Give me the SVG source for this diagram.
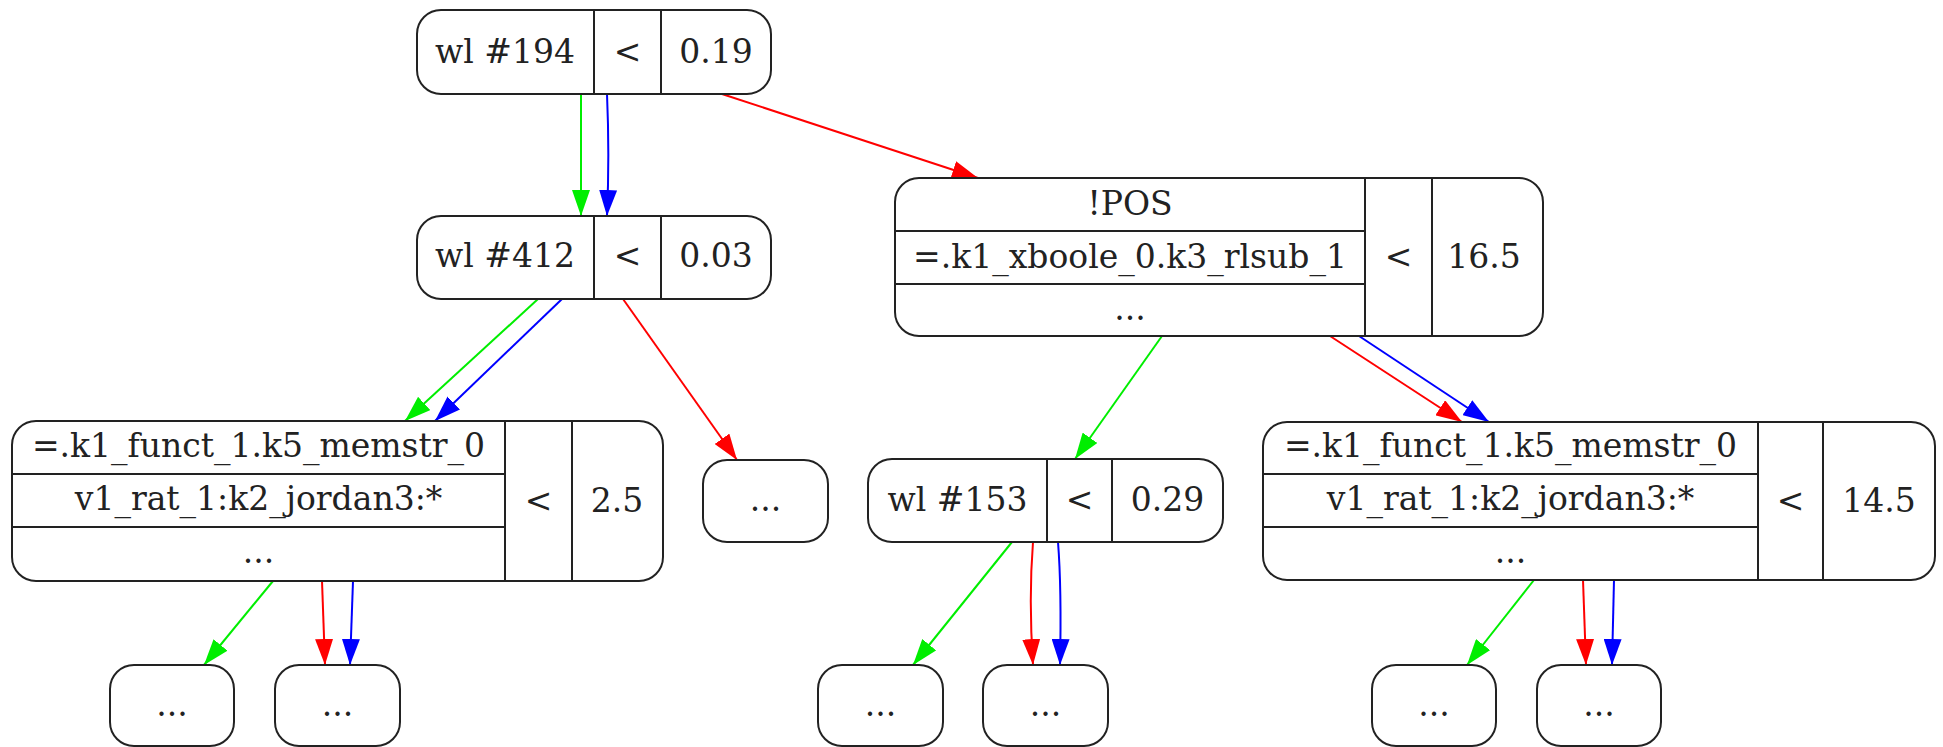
<svg xmlns="http://www.w3.org/2000/svg" width="1943" height="747" viewBox="0 0 1943 747">
<style>
.box{fill:#fff;stroke:#222;stroke-width:2}
.ln{stroke:#222;stroke-width:2;fill:none}
text{font-family:"DejaVu Serif","Liberation Serif",serif;font-size:33px;fill:#222;text-anchor:middle}
.e{fill:none;stroke-width:2}
.g{stroke:#00ee00}
.r{stroke:#ff0000}
.b{stroke:#0000ff}
</style>
<defs>
<marker id="ag" viewBox="0 0 26 18" refX="26" refY="9" markerWidth="26" markerHeight="18" markerUnits="userSpaceOnUse" orient="auto"><path d="M0,0 L26,9 L0,18 z" fill="#00ee00"/></marker>
<marker id="ar" viewBox="0 0 26 18" refX="26" refY="9" markerWidth="26" markerHeight="18" markerUnits="userSpaceOnUse" orient="auto"><path d="M0,0 L26,9 L0,18 z" fill="#ff0000"/></marker>
<marker id="ab" viewBox="0 0 26 18" refX="26" refY="9" markerWidth="26" markerHeight="18" markerUnits="userSpaceOnUse" orient="auto"><path d="M0,0 L26,9 L0,18 z" fill="#0000ff"/></marker>
</defs>
<rect width="1943" height="747" fill="#fff"/>
<g id="edges">
<path class="e g" d="M581,94 L581,216" marker-end="url(#ag)"/>
<path class="e b" d="M607,94 C609,140 609,170 607,216" marker-end="url(#ab)"/>
<path class="e r" d="M722,94 L978,178" marker-end="url(#ar)"/>
<path class="e g" d="M538,299 L405,421" marker-end="url(#ag)"/>
<path class="e b" d="M562,299 L435,421" marker-end="url(#ab)"/>
<path class="e r" d="M623,299 L737,460" marker-end="url(#ar)"/>
<path class="e g" d="M1162,336 L1075,459" marker-end="url(#ag)"/>
<path class="e r" d="M1330,336 L1462,422" marker-end="url(#ar)"/>
<path class="e b" d="M1359,336 L1489,422" marker-end="url(#ab)"/>
<path class="e g" d="M273,581 L204,665" marker-end="url(#ag)"/>
<path class="e r" d="M322,581 L325,665" marker-end="url(#ar)"/>
<path class="e b" d="M353,581 L350,665" marker-end="url(#ab)"/>
<path class="e g" d="M1012,542 L913,665" marker-end="url(#ag)"/>
<path class="e r" d="M1033,542 C1030,580 1030,620 1033,665" marker-end="url(#ar)"/>
<path class="e b" d="M1058,542 C1061,580 1061,620 1060,665" marker-end="url(#ab)"/>
<path class="e g" d="M1534,580 L1467,665" marker-end="url(#ag)"/>
<path class="e r" d="M1583,580 L1586,665" marker-end="url(#ar)"/>
<path class="e b" d="M1614,580 L1612,665" marker-end="url(#ab)"/>
</g>
<g id="n194">
<rect class="box" x="417" y="10" width="354" height="84" rx="24"/>
<path class="ln" d="M594,10 V94 M661,10 V94"/>
<text x="505" y="63">wl #194</text><text x="627.5" y="63">&lt;</text><text x="716" y="63">0.19</text>
</g>
<g id="n412">
<rect class="box" x="417" y="216" width="354" height="83" rx="24"/>
<path class="ln" d="M594,216 V299 M661,216 V299"/>
<text x="505" y="267">wl #412</text><text x="627.5" y="267">&lt;</text><text x="716" y="267">0.03</text>
</g>
<g id="npos">
<rect class="box" x="895" y="178" width="648" height="158" rx="24"/>
<path class="ln" d="M1365,178 V336 M1432,178 V336 M895,231 H1365 M895,284 H1365"/>
<text x="1130" y="215">!POS</text>
<text x="1130" y="268">=.k1_xboole_0.k3_rlsub_1</text>
<text x="1130" y="320">...</text>
<text x="1398.5" y="268">&lt;</text><text x="1484" y="268">16.5</text>
</g>
<g id="nleft">
<rect class="box" x="12" y="421" width="651" height="160" rx="24"/>
<path class="ln" d="M505,421 V581 M572,421 V581 M12,474 H505 M12,527 H505"/>
<text x="258.5" y="457">=.k1_funct_1.k5_memstr_0</text>
<text x="258.5" y="510">v1_rat_1:k2_jordan3:*</text>
<text x="258.5" y="563">...</text>
<text x="538.5" y="512">&lt;</text><text x="617" y="512">2.5</text>
</g>
<g id="nmid">
<rect class="box" x="703" y="460" width="125" height="82" rx="24"/>
<text x="765.5" y="511">...</text>
</g>
<g id="n153">
<rect class="box" x="868" y="459" width="355" height="83" rx="24"/>
<path class="ln" d="M1047,459 V542 M1112,459 V542"/>
<text x="957.5" y="511">wl #153</text><text x="1079.5" y="511">&lt;</text><text x="1167.5" y="511">0.29</text>
</g>
<g id="nright">
<rect class="box" x="1263" y="422" width="672" height="158" rx="24"/>
<path class="ln" d="M1758,422 V580 M1823,422 V580 M1263,474 H1758 M1263,527 H1758"/>
<text x="1510.5" y="457">=.k1_funct_1.k5_memstr_0</text>
<text x="1510.5" y="510">v1_rat_1:k2_jordan3:*</text>
<text x="1510.5" y="563">...</text>
<text x="1790.5" y="512">&lt;</text><text x="1879" y="512">14.5</text>
</g>
<g id="leaf1"><rect class="box" x="110" y="665" width="124" height="81" rx="24"/><text x="172" y="716">...</text></g>
<g id="leaf2"><rect class="box" x="275" y="665" width="125" height="81" rx="24"/><text x="337.5" y="716">...</text></g>
<g id="leaf3"><rect class="box" x="818" y="665" width="125" height="81" rx="24"/><text x="880.5" y="716">...</text></g>
<g id="leaf4"><rect class="box" x="983" y="665" width="125" height="81" rx="24"/><text x="1045.5" y="716">...</text></g>
<g id="leaf5"><rect class="box" x="1372" y="665" width="124" height="81" rx="24"/><text x="1434" y="716">...</text></g>
<g id="leaf6"><rect class="box" x="1537" y="665" width="124" height="81" rx="24"/><text x="1599" y="716">...</text></g>
</svg>
